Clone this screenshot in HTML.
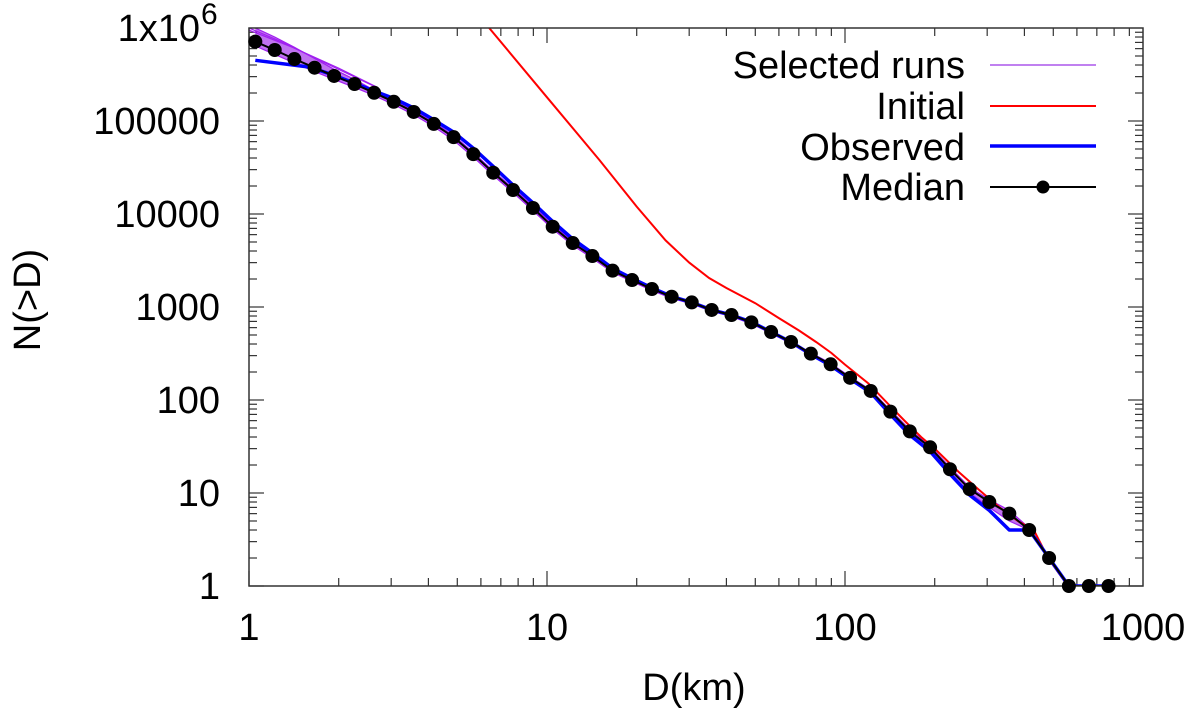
<!DOCTYPE html>
<html><head><meta charset="utf-8"><style>
html,body{margin:0;padding:0;background:#fff;}
svg{display:block;font-family:"Liberation Sans",sans-serif;}
</style></head><body>
<svg id="chart" width="1200" height="721" viewBox="0 0 1200 721" xmlns="http://www.w3.org/2000/svg">
<defs><clipPath id="plotclip"><rect x="249" y="28" width="894" height="558"/></clipPath></defs>
<rect x="0" y="0" width="1200" height="721" fill="#fff"/>
<g id="ticks"></g>
<g id="series" clip-path="url(#plotclip)"></g>
<rect x="249" y="28" width="894" height="558" fill="none" stroke="#333" stroke-width="1.5"/>
<g id="labels" font-size="38" fill="#000"></g>
<text x="694" y="700" text-anchor="middle" font-size="38">D(km)</text>
<text transform="translate(40,300) rotate(-90)" text-anchor="middle" font-size="38">N(&gt;D)</text>
<g font-size="38">
  <g>
    <text x="965" y="78" text-anchor="end">Selected runs</text>
    <line x1="990" y1="65" x2="1096" y2="65" stroke="#c080f0" stroke-width="2"/>
  </g>
  <g>
    <text x="965" y="119" text-anchor="end">Initial</text>
    <line x1="990" y1="106" x2="1096" y2="106" stroke="#ff0000" stroke-width="2"/>
  </g>
  <g>
    <text x="965" y="160" text-anchor="end">Observed</text>
    <line x1="990" y1="146" x2="1096" y2="146" stroke="#0000ff" stroke-width="3.5"/>
  </g>
  <g>
    <text x="965" y="200" text-anchor="end">Median</text>
    <line x1="990" y1="187" x2="1096" y2="187" stroke="#000" stroke-width="2"/>
    <circle cx="1043" cy="187" r="6.5" fill="#000"/>
  </g>
</g>
</svg>
<script>
const medianD = [1.05,1.22,1.42,1.66,1.93,2.26,2.63,3.06,3.57,4.17,4.86,5.66,6.6,7.69,8.97,10.45,12.2,14.2,16.6,19.3,22.5,26.2,30.6,35.7,41.6,48.5,56.5,65.9,76.8,89.5,104,122,142,165,193,225,262,305,356,415,484,564,658,766];
const medianN = [713000,580000,464000,374000,305000,250000,201000,161000,125000,93000,67000,44000,27800,18100,11600,7300,4870,3530,2460,1950,1560,1290,1120,929,820,684,538,421,315,242,173,125,75,46,31,18,11,8,6,4,2,1,1,1];
const runHiN = [1000000,800000,620000,470000,360000,280000,215000,170000,130000,97000,70000,46000,29000,19000,12200,7700,5100,3650,2550,2000,1600,1320,1150,950,840,700,550,430,322,248,178,128,78,48,32,19,11.5,8.5,6.5,4.2,2,1,1,1];
const runLoN = [640000,520000,420000,340000,280000,230000,188000,150000,117000,87000,62000,41000,26000,17000,10900,6900,4600,3350,2350,1880,1500,1240,1080,900,790,660,520,405,300,230,165,118,70,42,28,16,10,7,5,4,2,1,1,1];
const stray1D = [1,1.3,1.8,2.6];
const stray1N = [1000000,700000,420000,240000];
const stray2D = [1,1.4,2.0,2.7];
const stray2N = [950000,620000,370000,230000];
const observedD = [1.05,1.6,1.93,2.26,2.63,3.06,3.57,4.17,4.86,5.66,6.6,7.69,8.97,10.45,12.2,14.2,16.6,19.3,22.5,26.2,30.6,35.7,41.6,48.5,56.5,65.9,76.8,89.5,104,122,142,165,193,225,262,305,356,415,484,564,658,766];
const observedN = [450000,380000,310000,255000,210000,175000,138000,103000,76000,51000,32500,20500,13200,8300,5400,3800,2600,2030,1600,1300,1120,930,820,690,540,420,310,235,168,120,70,42,28,16,9.5,6.5,4,4,2,1,1,1];
const initialD = [5,6.4,10,15,20,25,30,35,40,50,60,70,80,90,100,120,140,160,180,200,240,280,330,380,430,480,560,766];
const initialN = [2700000,1000000,180000,38000,12000,5200,3000,2050,1600,1100,760,560,420,320,240,150,90,58,40,30,17,11,7,5,4,2,1,1];
const xTickVals = [1,10,100,1000];
const xTickLabels = ["1","10","100","1000"];
const yTickVals = [1,10,100,1000,10000,100000,1000000];
const yTickLabels = ["1","10","100","1000","10000","100000","1x10"];

const X0=249,X1=1143,Y0=586,Y1=28;
function sx(d){return X0+(Math.log10(d)-0)/3*(X1-X0);}
function sy(n){return Y0-(Math.log10(n))/6*(Y0-Y1);}
const NS="http://www.w3.org/2000/svg";
function mk(tag,attrs,parent){const e=document.createElementNS(NS,tag);for(const k in attrs)e.setAttribute(k,attrs[k]);parent.appendChild(e);return e;}
function pts(D,N){return D.map((d,i)=>sx(d).toFixed(1)+","+sy(N[i]).toFixed(1)).join(" ");}

const ticks=document.getElementById('ticks');
const labels=document.getElementById('labels');
for(let dec=0;dec<3;dec++){for(let m=1;m<=9;m++){const v=m*Math.pow(10,dec);const x=sx(v);const L=m===1?15:8;
  mk('line',{x1:x,y1:Y0,x2:x,y2:Y0-L,stroke:'#333','stroke-width':1.2},ticks);
  mk('line',{x1:x,y1:Y1,x2:x,y2:Y1+L,stroke:'#333','stroke-width':1.2},ticks);}}
for(let dec=0;dec<6;dec++){for(let m=1;m<=9;m++){const v=m*Math.pow(10,dec);const y=sy(v);const L=m===1?15:8;
  mk('line',{x1:X0,y1:y,x2:X0+L,y2:y,stroke:'#333','stroke-width':1.2},ticks);
  mk('line',{x1:X1,y1:y,x2:X1-L,y2:y,stroke:'#333','stroke-width':1.2},ticks);}}
xTickVals.forEach((v,i)=>{const t=mk('text',{x:sx(v),y:640,'text-anchor':'middle'},labels);t.textContent=xTickLabels[i];
  
  });
yTickVals.forEach((v,i)=>{const y=sy(v);let t;
  if(i===yTickVals.length-1){t=mk('text',{x:200,y:y+13,'text-anchor':'end'},labels);t.textContent=yTickLabels[i];
    const s=mk('text',{x:201,y:y-4,'font-size':30},labels);s.textContent="6";}
  else{t=mk('text',{x:220,y:y+13,'text-anchor':'end'},labels);t.textContent=yTickLabels[i];}
  
  });

const g=document.getElementById('series');
const band=mk('polygon',{points:pts(medianD,runHiN)+" "+pts(medianD.slice().reverse(),runLoN.slice().reverse()),fill:'rgba(150,20,230,0.6)',stroke:'none'},g);


[[medianD,runHiN],[medianD,runLoN],[stray1D,stray1N],[stray2D,stray2N]].forEach(([D,N])=>{
  const l=mk('polyline',{points:pts(D,N),fill:'none',stroke:'#a020f0','stroke-width':1.2},g);
  
  });
const ini=mk('polyline',{points:pts(initialD,initialN),fill:'none',stroke:'#ff0000','stroke-width':2},g);


const obs=mk('polyline',{points:pts(observedD,observedN),fill:'none',stroke:'#0000ff','stroke-width':3.5,'stroke-linejoin':'round'},g);


const med=mk('polyline',{points:pts(medianD,medianN),fill:'none',stroke:'#000','stroke-width':2},g);


medianD.forEach((d,i)=>{const c=mk('circle',{cx:sx(d),cy:sy(medianN[i]),r:7,fill:'#000'},document.getElementById('chart'));
  
  });
</script>
</body></html>
